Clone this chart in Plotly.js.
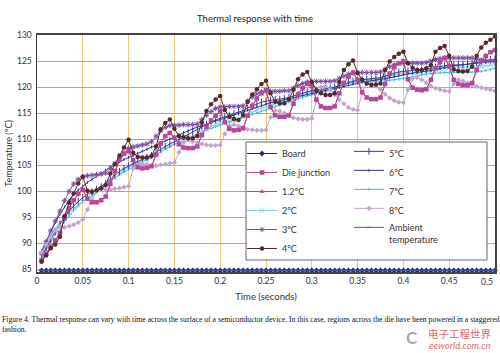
<!DOCTYPE html>
<html><head><meta charset="utf-8">
<script src="https://cdn.plot.ly/plotly-3.0.1.min.js"></script>
<style>html,body{margin:0;padding:0;background:#fff;}#chart{width:500px;height:353px;}</style>
</head><body><div id="chart"></div>
<script>
const time = [0.005,0.01,0.015,0.02,0.025,0.03,0.035,0.04,0.045,0.05,
0.055,0.06,0.065,0.07,0.075,0.08,0.085,0.09,0.095,0.1,
0.105,0.11,0.115,0.12,0.125,0.13,0.135,0.14,0.145,0.15,
0.155,0.16,0.165,0.17,0.175,0.18,0.185,0.19,0.195,0.2,
0.205,0.21,0.215,0.22,0.225,0.23,0.235,0.24,0.245,0.25,
0.255,0.26,0.265,0.27,0.275,0.28,0.285,0.29,0.295,0.3,
0.305,0.31,0.315,0.32,0.325,0.33,0.335,0.34,0.345,0.35,
0.355,0.36,0.365,0.37,0.375,0.38,0.385,0.39,0.395,0.4,
0.405,0.41,0.415,0.42,0.425,0.43,0.435,0.44,0.445,0.45,
0.455,0.46,0.465,0.47,0.475,0.48,0.485,0.49,0.495,0.5];

const board = [84.8,84.8,84.8,84.8,84.8,84.8,84.8,84.8,84.8,84.8,
84.8,84.8,84.8,84.8,84.8,84.8,84.8,84.8,84.8,84.8,
84.8,84.8,84.8,84.8,84.8,84.8,84.8,84.8,84.8,84.8,
84.8,84.8,84.8,84.8,84.8,84.8,84.8,84.8,84.8,84.8,
84.8,84.8,84.8,84.8,84.8,84.8,84.8,84.8,84.8,84.8,
84.8,84.8,84.8,84.8,84.8,84.8,84.8,84.8,84.8,84.8,
84.8,84.8,84.8,84.8,84.8,84.8,84.8,84.8,84.8,84.8,
84.8,84.8,84.8,84.8,84.8,84.8,84.8,84.8,84.8,84.8,
84.8,84.8,84.8,84.8,84.8,84.8,84.8,84.8,84.8,84.8,
84.8,84.8,84.8,84.8,84.8,84.8,84.8,84.8,84.8,84.8];

const ambient = [84.8,84.8,84.8,84.8,84.8,84.8,84.8,84.8,84.8,84.8,
84.8,84.8,84.8,84.8,84.8,84.8,84.8,84.8,84.8,84.8,
84.8,84.8,84.8,84.8,84.8,84.8,84.8,84.8,84.8,84.8,
84.8,84.8,84.8,84.8,84.8,84.8,84.8,84.8,84.8,84.8,
84.8,84.8,84.8,84.8,84.8,84.8,84.8,84.8,84.8,84.8,
84.8,84.8,84.8,84.8,84.8,84.8,84.8,84.8,84.8,84.8,
84.8,84.8,84.8,84.8,84.8,84.8,84.8,84.8,84.8,84.8,
84.8,84.8,84.8,84.8,84.8,84.8,84.8,84.8,84.8,84.8,
84.8,84.8,84.8,84.8,84.8,84.8,84.8,84.8,84.8,84.8,
84.8,84.8,84.8,84.8,84.8,84.8,84.8,84.8,84.8,84.8];

const dieJunction = [86.8,88.0,89.4,90.6,92.0,94.8,96.8,98.3,99.5,100.3,
98.6,97.9,97.9,98.3,99.0,101.4,103.9,106.0,107.2,107.7,
106.0,104.6,104.4,104.5,104.8,107.0,109.2,110.6,111.2,110.3,
109.0,108.4,108.3,108.3,108.6,110.8,112.4,113.6,114.5,115.4,
113.3,112.0,111.7,111.8,112.1,114.5,116.4,117.8,118.8,119.4,
116.2,114.6,114.3,114.3,114.6,116.8,118.6,119.8,120.6,120.2,
117.6,116.3,116.0,116.0,116.3,118.8,120.8,122.0,122.8,121.4,
119.0,118.0,117.7,117.7,118.0,120.6,122.6,123.8,124.6,125.0,
121.5,119.9,119.5,119.4,119.6,121.4,123.6,124.8,125.6,124.0,
121.4,120.6,120.4,120.4,120.8,123.3,125.0,126.0,126.7,127.1];

const t1_2 = [86.8,88.0,89.4,90.6,92.0,94.8,96.8,98.3,99.5,100.3,
98.6,97.9,97.9,98.3,99.0,101.4,103.9,106.0,107.2,107.7,
106.0,104.6,104.4,104.5,104.8,107.0,109.2,110.6,111.2,110.3,
109.0,108.4,108.3,108.3,108.6,110.8,112.4,113.6,114.5,115.4,
113.3,112.0,111.7,111.8,112.1,114.5,116.4,117.8,118.8,119.4,
116.2,114.6,114.3,114.3,114.6,116.8,118.6,119.8,120.6,120.2,
117.6,116.3,116.0,116.0,116.3,118.8,120.8,122.0,122.8,121.4,
119.0,118.0,117.7,117.7,118.0,120.6,122.6,123.8,124.6,125.0,
121.5,119.9,119.5,119.4,119.6,121.4,123.6,124.8,125.6,124.0,
121.4,120.6,120.4,120.4,120.8,123.3,125.0,126.0,126.7,127.1];

const t2 = [88.2,90.0,91.6,92.9,94.0,95.0,95.9,96.7,97.4,98.0,
98.5,99.0,99.6,100.3,101.0,101.8,102.6,103.4,104.1,104.7,
105.1,105.4,105.7,106.0,106.4,107.0,107.6,108.2,108.7,109.1,
109.4,109.7,110.0,110.3,110.7,111.3,111.9,112.4,112.8,113.1,
113.3,113.5,113.7,113.9,114.2,114.7,115.2,115.6,116.0,116.3,
116.5,116.7,116.9,117.1,117.4,117.8,118.2,118.6,118.9,119.1,
119.2,119.3,119.4,119.6,119.8,120.2,120.6,120.9,121.1,121.2,
121.3,121.3,121.4,121.5,121.6,121.9,122.2,122.4,122.6,122.7,
122.7,122.7,122.8,122.8,122.9,123.1,123.3,123.5,123.6,123.7,
123.7,123.7,123.7,123.8,123.8,123.9,124.0,124.1,124.2,124.3];

const t3 = [88.0,90.3,92.4,94.3,96.2,98.2,100.0,101.4,102.3,102.8,
103.0,103.1,103.2,103.3,103.5,104.4,105.4,106.4,107.4,108.2,
108.5,108.7,108.9,109.1,109.5,110.6,111.6,112.3,112.6,112.7,
112.7,112.8,112.8,112.8,112.9,113.8,114.6,115.3,115.9,116.2,
116.2,116.3,116.3,116.3,116.4,117.3,118.1,118.7,119.1,119.2,
119.2,119.2,119.2,119.3,119.3,119.8,120.3,120.7,121.0,121.1,
121.1,121.1,121.1,121.1,121.2,121.7,122.1,122.5,122.7,122.8,
122.8,122.8,122.8,122.8,122.9,123.4,123.9,124.3,124.5,124.6,
124.6,124.6,124.6,124.6,124.7,125.0,125.3,125.5,125.6,125.6,
125.6,125.6,125.6,125.6,125.6,125.4,125.2,125.1,125.0,125.0];

const t4 = [86.5,87.7,89.1,89.8,91.3,95.2,97.8,99.6,101.5,102.8,
100.1,99.9,100.2,100.6,101.2,103.4,105.2,106.9,108.4,109.9,
107.4,106.6,106.5,106.5,106.8,108.6,111.9,113.1,113.8,112.0,
110.6,110.4,110.2,110.2,110.6,113.2,115.4,116.7,117.6,118.3,
115.6,114.3,113.9,113.7,114.6,117.2,118.6,119.6,120.6,121.2,
118.8,117.2,116.9,116.9,117.6,119.5,121.5,122.4,122.9,121.0,
119.4,118.8,118.5,118.5,118.8,121.0,123.3,124.4,125.1,122.7,
121.4,120.7,120.4,120.5,120.7,123.3,124.9,125.8,126.4,126.8,
124.6,123.7,123.3,123.3,123.6,124.2,126.8,127.5,127.9,126.0,
123.4,123.1,123.0,123.1,123.9,126.0,127.6,128.5,129.1,129.7];

const t5 = [87.6,89.2,90.8,92.3,93.7,95.0,96.2,97.2,98.1,98.8,
99.4,99.9,100.4,100.9,101.5,102.3,103.1,103.8,104.4,104.9,
105.3,105.7,106.1,106.5,106.9,107.5,108.1,108.6,109.1,109.5,
109.9,110.4,110.9,111.4,111.8,112.4,112.9,113.3,113.7,114.0,
114.3,114.6,114.9,115.2,115.5,116.0,116.4,116.8,117.1,117.3,
117.5,117.6,117.7,117.8,118.0,118.3,118.6,118.9,119.1,119.3,
119.4,119.5,119.6,119.8,120.0,120.3,120.6,120.9,121.1,121.3,
121.4,121.5,121.6,121.7,121.8,122.1,122.4,122.7,122.9,123.0,
123.1,123.1,123.2,123.3,123.4,123.6,123.8,124.0,124.1,124.2,
124.2,124.3,124.3,124.4,124.5,124.7,124.9,125.1,125.3,125.4];

const t6 = [88.6,90.5,92.3,94.0,95.6,97.0,98.3,99.4,100.3,101.0,
101.7,102.3,102.9,103.5,104.1,104.7,105.2,105.7,106.1,106.5,
106.9,107.3,107.7,108.1,108.5,108.9,109.3,109.7,110.1,110.5,
110.9,111.3,111.7,112.0,112.3,112.6,112.9,113.2,113.5,113.8,
114.1,114.4,114.7,115.0,115.3,115.6,115.9,116.2,116.5,116.8,
117.0,117.2,117.4,117.6,117.8,118.0,118.2,118.4,118.6,118.8,
119.0,119.2,119.4,119.6,119.8,120.0,120.2,120.4,120.6,120.8,
121.0,121.1,121.2,121.4,121.5,121.6,121.8,122.0,122.2,122.4,
122.6,122.7,122.8,122.9,123.0,123.2,123.4,123.6,123.8,124.0,
124.1,124.2,124.3,124.4,124.5,124.6,124.7,124.8,124.9,125.0];

const t7 = [87.2,88.8,90.4,91.8,93.0,94.2,95.3,96.3,97.2,98.0,
98.6,99.3,100.0,100.7,101.4,102.0,102.6,103.2,103.7,104.2,
104.7,105.2,105.7,106.2,106.7,107.2,107.7,108.2,108.6,109.0,
109.4,109.8,110.2,110.6,111.0,111.4,111.8,112.1,112.4,112.7,
113.0,113.3,113.6,113.9,114.2,114.5,114.8,115.1,115.4,115.6,
115.9,116.2,116.5,116.8,117.1,117.4,117.7,118.0,118.3,118.5,
118.8,119.1,119.4,119.7,120.0,120.3,120.5,120.7,120.9,121.0,
121.1,121.1,121.1,121.1,121.2,121.2,121.3,121.4,121.5,121.6,
121.8,122.0,122.2,122.4,122.5,122.6,122.7,122.8,122.8,122.8,
122.8,122.8,122.8,122.8,122.9,122.9,123.0,123.2,123.4,123.6];

const t8 = [88.3,89.8,91.2,92.5,93.2,93.1,93.3,93.6,94.0,94.6,
96.5,98.3,100.1,100.6,100.3,100.3,100.5,100.6,100.8,101.0,
104.4,105.1,105.3,105.2,105.0,104.9,105.1,105.2,105.4,105.5,
107.5,109.4,109.8,109.6,109.3,109.1,108.9,108.8,108.8,108.9,
111.0,112.6,112.8,112.5,112.2,111.9,111.8,111.7,111.7,111.8,
114.2,115.5,115.4,115.0,114.5,114.1,113.9,113.8,113.8,114.0,
117.5,120.0,120.2,119.5,118.5,117.6,116.8,116.1,115.7,115.6,
119.0,120.8,120.7,120.2,119.5,118.6,117.9,117.4,117.1,117.0,
119.5,121.6,121.8,121.4,120.8,120.2,119.8,119.5,119.3,119.2,
120.6,121.4,121.2,120.8,120.4,120.1,119.9,119.7,119.5,119.3];

const xTickVals = [0,0.05,0.1,0.15,0.2,0.25,0.3,0.35,0.4,0.45];
const xTickText = ['0','0.05','0.1','0.15','0.2','0.25','0.3','0.35','0.4','0.45'];
const xLastTick = '0.5';
const yTickVals = [85,90,95,100,105,110,115,120,125,130];

const FONT = 'Lato, "Liberation Sans", Arial, sans-serif';
const SERIF = '"Liberation Serif", "Times New Roman", serif';
const L = 37, T = 35, PW = 458, PH = 237;
function px(x){ return (x - L) / PW; }
function py(y){ return (T + PH - y) / PH; }

function tr(name, y, color, symbol, size, legend, rank, opts) {
  opts = opts || {};
  return {
    type: 'scatter', mode: 'lines+markers', name: name, x: time, y: y,
    legend: legend, legendrank: rank, cliponaxis: false,
    line: {color: color, width: 1},
    marker: {symbol: symbol, size: size, color: color, line: {color: color, width: opts.mlw || 0}},
    hoverinfo: 'skip'
  };
}

const data = [
  tr('Board', board, '#2b2d7c', 'diamond', 4.5, 'legend', 1),
  tr('Ambient<br>temperature', ambient, '#4a58a0', 'line-ew-open', 3, 'legend2', 5, {mlw: 1}),
  tr('1.2ºC', t1_2, '#e2402f', 'triangle-up', 4.5, 'legend', 3),
  tr('7ºC', t7, '#3dbcd4', 'line-ns-open', 2, 'legend2', 3, {mlw: 1}),
  tr('2ºC', t2, '#84d2e4', 'x-thin-open', 4.5, 'legend', 4, {mlw: 1}),
  tr('6ºC', t6, '#2c3a86', 'line-ns-open', 2, 'legend2', 2, {mlw: 1}),
  tr('5ºC', t5, '#3d3f8e', 'line-ns-open', 5, 'legend2', 1, {mlw: 1}),
  tr('3ºC', t3, '#7a4e9e', 'asterisk-open', 4.5, 'legend', 5, {mlw: 1}),
  tr('8ºC', t8, '#c3a4c8', 'diamond', 4, 'legend2', 4),
  tr('Die junction', dieJunction, '#b4479d', 'square', 4.5, 'legend', 2),
  tr('4ºC', t4, '#552a2a', 'circle', 4.5, 'legend', 6)
];

const layout = {
  width: 500, height: 353,
  margin: {l: L, r: 500 - L - PW, t: T, b: 353 - T - PH, pad: 0},
  paper_bgcolor: '#fff', plot_bgcolor: '#fff',
  font: {family: FONT, size: 9, color: '#333'},
  title: {text: 'Thermal response with time', font: {family: FONT, size: 9.5, color: '#222'},
          x: 0.51, xref: 'container', xanchor: 'center', y: 1 - 18.5/353, yref: 'container', yanchor: 'middle'},
  xaxis: {
    range: [0, 0.5], tickvals: xTickVals, ticktext: xTickText, ticks: '',
    showgrid: true, gridcolor: '#f0c878', gridwidth: 1, zeroline: false,
    showline: true, mirror: true, linecolor: '#444', linewidth: 1.8,
    tickfont: {family: FONT, size: 8.5, color: '#333'},
    title: {text: 'Time (seconds)', font: {family: FONT, size: 9.5, color: '#333'}, standoff: 8},
    automargin: false, fixedrange: true
  },
  yaxis: {
    range: [84.52, 130], tickvals: yTickVals, ticks: '',
    showgrid: true, gridcolor: '#a8a8a8', gridwidth: 1, zeroline: false,
    showline: true, mirror: true, linecolor: '#444', linewidth: 1.5,
    tickfont: {family: FONT, size: 8.5, color: '#333'}, ticklabelstandoff: 2,
    title: {text: 'Temperature (ºC)', font: {family: FONT, size: 9, color: '#333'}, standoff: 3},
    automargin: false, fixedrange: true
  },
  showlegend: true,
  legend: {x: px(242), y: py(139), xanchor: 'left', yanchor: 'top', bgcolor: 'rgba(0,0,0,0)',
           borderwidth: 0, font: {family: FONT, size: 9, color: '#333'}, traceorder: 'normal', itemwidth: 30},
  legend2: {x: px(349), y: py(139), xanchor: 'left', yanchor: 'top', bgcolor: 'rgba(0,0,0,0)',
           borderwidth: 0, font: {family: FONT, size: 9, color: '#333'}, traceorder: 'normal', itemwidth: 30, valign: 'top'},
  shapes: [
    {type: 'rect', xref: 'paper', yref: 'paper', x0: px(246), x1: px(487), y0: py(260), y1: py(142),
     fillcolor: '#fff', line: {color: '#666', width: 1}, layer: 'above'}
  ],
  annotations: [
    {xref: 'x', yref: 'paper', x: 0.5, xshift: -8, y: py(281.5), xanchor: 'center', yanchor: 'middle', showarrow: false,
     text: xLastTick, font: {family: FONT, size: 8.5, color: '#333'}},
    {xref: 'paper', yref: 'paper', x: px(0), y: py(319), xanchor: 'left', yanchor: 'middle', showarrow: false, align: 'left',
     text: 'Figure 4. Thermal response can vary with time across the surface of a semiconductor device. In this case, regions across the die have been powered in a staggered',
     font: {family: SERIF, size: 7.7, color: '#111'}},
    {xref: 'paper', yref: 'paper', x: px(0), y: py(329.5), xanchor: 'left', yanchor: 'middle', showarrow: false, align: 'left',
     text: 'fashion.',
     font: {family: SERIF, size: 7.7, color: '#111'}},
    {xref: 'paper', yref: 'paper', x: px(412), y: py(337), xanchor: 'center', yanchor: 'middle', showarrow: false,
     text: '<b>C</b>', font: {family: FONT, size: 17, color: 'rgba(140,140,140,0.75)'}},
    {xref: 'paper', yref: 'paper', x: px(460), y: py(333), xanchor: 'center', yanchor: 'middle', showarrow: false,
     text: '电子工程世界', font: {family: '"Noto Sans CJK SC", sans-serif', size: 10.5, color: 'rgba(214,60,60,0.8)'}},
    {xref: 'paper', yref: 'paper', x: px(460), y: py(345), xanchor: 'center', yanchor: 'middle', showarrow: false,
     text: '<i>eeworld.com.cn</i>', font: {family: FONT, size: 9.5, color: 'rgba(214,60,60,0.8)'}}
  ]
};

Plotly.newPlot('chart', data, layout, {staticPlot: true, displayModeBar: false});
</script>
</body></html>
